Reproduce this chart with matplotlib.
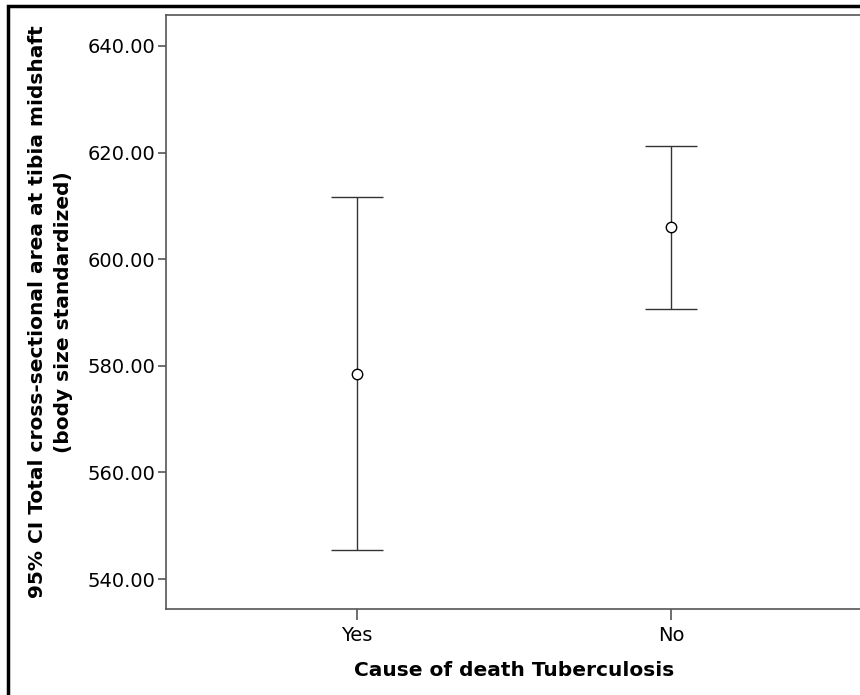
import numpy as np
import matplotlib.pyplot as plt
from matplotlib.patches import Rectangle

groups = ['Yes', 'No']
means = [578.5, 606.0]
lower = [545.4, 590.7]
upper = [611.6, 621.3]

fig = plt.figure(figsize=(8.6, 6.95), dpi=100)
W, H = 860, 695
ax = fig.add_axes([166 / W, 1 - 609 / H, (862 - 166) / W, (609 - 15) / H])

x = np.arange(len(groups))
m = np.array(means)
err = np.vstack([m - np.array(lower), np.array(upper) - m])
ax.errorbar(x, m, yerr=err, fmt='o', mfc='white', mec='black', ms=7.5, mew=1.0,
            ecolor='#333333', elinewidth=1.0, capsize=19, capthick=1.0, color='#333333')

ax.set_xlim(-0.608, 1.608)
ax.set_ylim(534.4, 645.8)
ax.set_yticks([540, 560, 580, 600, 620, 640])
ax.set_yticklabels(['%.2f' % v for v in [540, 560, 580, 600, 620, 640]])
ax.set_xticks(x)
ax.set_xticklabels(groups)

for s in ax.spines.values():
    s.set_color('#555555')
    s.set_linewidth(1.2)
ax.tick_params(axis='y', length=6, width=1.2, color='#555555', labelsize=14, pad=2)
ax.tick_params(axis='x', length=8, width=1.2, color='#555555', labelsize=14, pad=4)

ax.set_xlabel('Cause of death Tuberculosis', fontsize=14.5, fontweight='bold', labelpad=12)
ax.set_ylabel('95% CI Total cross-sectional area at tibia midshaft\n(body size standardized)',
              fontsize=14.5, fontweight='bold', labelpad=10, linespacing=1.45)

# outer frame
fig.patches.append(Rectangle((8 / W, -0.05), 1.1, 1 - 6 / H + 0.05, transform=fig.transFigure,
                             fill=False, edgecolor='black', linewidth=2.5))

fig.savefig('out.png', dpi=100)
